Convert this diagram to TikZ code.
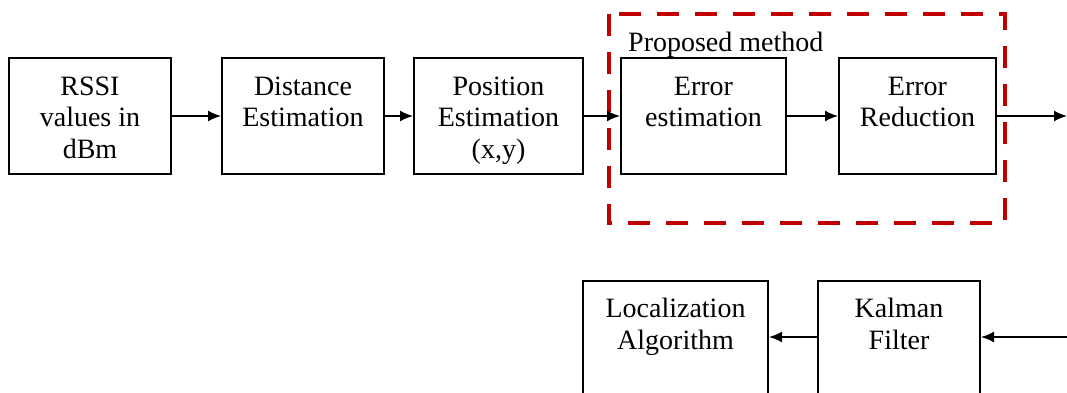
\documentclass[tikz,border=0pt]{standalone}
\usepackage{fontspec}
\setmainfont{Liberation Serif}
\usetikzlibrary{arrows.meta}
\definecolor{dashred}{RGB}{192,0,0}
\tikzset{
  blockbox/.style={draw=black, line width=2pt, fill=none, inner sep=0pt, anchor=north west},
  blocktext/.style={anchor=base, align=center, inner sep=0pt, font=\fontsize{28}{31.5}\selectfont},
  flow/.style={draw=black, line width=1.8pt, -{Latex[length=13pt,width=11pt]}},
  propbox/.style={draw=dashred, line width=4.5pt, dash pattern=on 22pt off 16pt}
}
\begin{document}
\begin{tikzpicture}[x=1pt,y=-1pt]
\useasboundingbox (0,0) rectangle (1067,393);
\clip (0,0) rectangle (1067,393);
% dashed region
\draw[propbox] (609,14) rectangle (1005,223);
\node[anchor=base west, inner sep=0pt, font=\fontsize{28}{31.5}\selectfont] (prop) at (628,52) {Proposed method};
% top row boxes
\node[blockbox, minimum width=162pt, minimum height=116pt] (b1) at (8,57) {};
\node[blockbox, minimum width=162pt, minimum height=116pt] (b2) at (221,57) {};
\node[blockbox, minimum width=169pt, minimum height=116pt] (b3) at (413,57) {};
\node[blockbox, minimum width=165pt, minimum height=116pt] (b4) at (620,57) {};
\node[blockbox, minimum width=157pt, minimum height=116pt] (b5) at (838,57) {};
% bottom row boxes
\node[blockbox, minimum width=185pt, minimum height=140pt] (b6) at (582,280) {};
\node[blockbox, minimum width=162pt, minimum height=140pt] (b7) at (817,280) {};
% texts (base anchor = last line)
\node[blocktext] (t1) at ([yshift=-101pt]b1.north) {RSSI\\values in\\dBm};
\node[blocktext] (t2) at ([yshift=-69.5pt]b2.north) {Distance\\Estimation};
\node[blocktext] (t3) at ([yshift=-101pt]b3.north) {Position\\Estimation\\(x,y)};
\node[blocktext] (t4) at ([yshift=-69.5pt]b4.north) {Error\\estimation};
\node[blocktext] (t5) at ([yshift=-69.5pt]b5.north) {Error\\Reduction};
\node[blocktext] (t6) at ([yshift=-69pt]b6.north) {Localization\\Algorithm};
\node[blocktext] (t7) at ([yshift=-69pt]b7.north) {Kalman\\Filter};
% connectors
\coordinate (out) at (1067,115);
\coordinate (in) at (1067,337);
\draw[flow] (b1.east) -- (b1.east -| b2.west);
\draw[flow] (b2.east) -- (b2.east -| b3.west);
\draw[flow] (b3.east) -- (b3.east -| b4.west);
\draw[flow] (b4.east) -- (b4.east -| b5.west);
\draw[flow] (b5.east) -- (b5.east -| out);
\draw[flow] (in) -- (in -| b7.east);
\draw[flow] (b7.west |- in) -- (b6.east |- in);
\end{tikzpicture}
\end{document}
